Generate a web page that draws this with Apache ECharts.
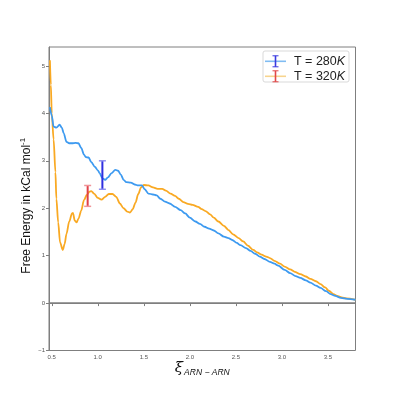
<!DOCTYPE html>
<html>
<head>
<meta charset="utf-8">
<script src="https://cdn.jsdelivr.net/npm/echarts@6/dist/echarts.min.js"></script>
<style>html,body{margin:0;padding:0;background:#fff;}#c{width:395px;height:395px;}</style>
</head>
<body>
<div id="c"></div>
<script>
// ---- data ----
const blueX = [0.48,0.50,0.52,0.55,0.585,0.61,0.63,0.66,0.69,0.72,0.76,0.79,0.82,0.85,0.87,0.90,0.93,0.97,1.00,1.02,1.05,1.08,1.11,1.15,1.19,1.22,1.25,1.28,1.31,1.36,1.40,1.44,1.48,1.51,1.55,1.60,1.64,1.68,1.73,1.78,1.84,1.90,1.95,2.00,2.06,2.11,2.16,2.21,2.26,2.31,2.37,2.42,2.46,2.51,2.55,2.61,2.66,2.71,2.76,2.81,2.87,2.92,2.96,3.03,3.09,3.15,3.20,3.26,3.31,3.37,3.42,3.48,3.53,3.58,3.64,3.71,3.80];
const blueY = [4.13,3.95,3.72,3.70,3.76,3.70,3.58,3.40,3.37,3.37,3.38,3.37,3.27,3.13,3.08,3.07,2.97,2.87,2.80,2.74,2.63,2.60,2.65,2.74,2.81,2.79,2.71,2.60,2.55,2.54,2.50,2.48,2.48,2.40,2.31,2.29,2.27,2.20,2.14,2.10,2.03,1.96,1.89,1.80,1.72,1.67,1.61,1.57,1.53,1.47,1.40,1.37,1.33,1.27,1.22,1.16,1.10,1.04,0.98,0.93,0.87,0.83,0.79,0.70,0.63,0.57,0.53,0.48,0.43,0.37,0.32,0.25,0.19,0.15,0.11,0.09,0.07];
const orangeX = [0.48,0.49,0.50,0.52,0.54,0.55,0.57,0.59,0.62,0.64,0.66,0.69,0.72,0.73,0.75,0.77,0.79,0.82,0.85,0.88,0.91,0.93,0.96,1.00,1.04,1.08,1.12,1.16,1.20,1.24,1.28,1.32,1.35,1.38,1.41,1.44,1.47,1.50,1.55,1.60,1.65,1.70,1.74,1.79,1.84,1.88,1.93,1.98,2.03,2.09,2.13,2.17,2.22,2.26,2.31,2.37,2.42,2.47,2.53,2.58,2.63,2.69,2.73,2.78,2.83,2.87,2.92,2.98,3.03,3.09,3.14,3.20,3.26,3.31,3.37,3.42,3.47,3.51,3.56,3.60,3.65,3.70,3.80];
const orangeY = [5.12,4.60,4.00,3.45,2.76,2.20,1.70,1.28,1.12,1.25,1.46,1.72,1.89,1.90,1.74,1.70,1.78,1.95,2.17,2.28,2.35,2.36,2.31,2.22,2.18,2.24,2.30,2.30,2.24,2.10,2.00,1.93,1.91,1.98,2.12,2.30,2.44,2.49,2.48,2.44,2.41,2.41,2.37,2.31,2.26,2.20,2.13,2.09,2.07,2.03,1.98,1.94,1.87,1.80,1.72,1.63,1.54,1.45,1.37,1.30,1.21,1.12,1.07,1.02,0.98,0.95,0.89,0.83,0.77,0.71,0.66,0.61,0.56,0.51,0.46,0.40,0.33,0.26,0.19,0.15,0.12,0.10,0.07];
// error bars: [x, low, high]
const errBlue = [[1.05, 2.40, 3.00]];
const errRed = [[0.89, 2.04, 2.48]];
const xTicks = [0.5,1.0,1.5,2.0,2.5,3.0,3.5];
const yTicks = [-1,0,1,2,3,4,5];
const legendNames = ['T = 280', 'T = 320'];

const zip = (a,b) => a.map((v,i)=>[v,b[i]]);

function errItem(color, capColor) {
  return function(params, api) {
    const x = api.value(0);
    const lo = api.coord([x, api.value(1)]);
    const hi = api.coord([x, api.value(2)]);
    const hw = 3.5;
    return {type:'group', children:[
      {type:'line', shape:{x1:lo[0],y1:lo[1],x2:hi[0],y2:hi[1]}, style:{stroke:color,lineWidth:2}},
      {type:'line', shape:{x1:lo[0]-hw,y1:lo[1],x2:lo[0]+hw,y2:lo[1]}, style:{stroke:capColor,lineWidth:1.5}},
      {type:'line', shape:{x1:hi[0]-hw,y1:hi[1],x2:hi[0]+hw,y2:hi[1]}, style:{stroke:capColor,lineWidth:1.5}}
    ]};
  };
}

const chart = echarts.init(document.getElementById('c'));
const font = 'Liberation Sans, Arial, sans-serif';
const gridL = 49, gridR = 39.5, gridT = 47, gridB = 44.5;

function legendGraphic() {
  const bx = 263, by = 51, bw = 86, bh = 31;
  const rows = [61.3, 76.3];
  const lineCol = ['#80bcf2', '#f7d48e'];
  const barCol = ['#3a3ae0', '#e24848'];
  const els = [{type:'rect', shape:{x:bx,y:by,width:bw,height:bh,r:2}, style:{fill:'rgba(255,255,255,0.85)',stroke:'#d9d9d9',lineWidth:1}}];
  rows.forEach((ry,i)=>{
    els.push({type:'line', shape:{x1:265,y1:ry,x2:286,y2:ry}, style:{stroke:lineCol[i],lineWidth:1.6}});
    els.push({type:'line', shape:{x1:275.5,y1:ry-5.5,x2:275.5,y2:ry+5.5}, style:{stroke:barCol[i],lineWidth:1.6}});
    els.push({type:'line', shape:{x1:272.5,y1:ry-5.5,x2:278.5,y2:ry-5.5}, style:{stroke:barCol[i],lineWidth:1}});
    els.push({type:'line', shape:{x1:272.5,y1:ry+5.5,x2:278.5,y2:ry+5.5}, style:{stroke:barCol[i],lineWidth:1}});
    els.push({type:'text', x:294, y:ry, style:{text:'{a|'+legendNames[i]+'}{k|K}', verticalAlign:'middle', fill:'#222',
      rich:{a:{fontSize:12.5,fontFamily:font,fill:'#222'},k:{fontSize:12.5,fontFamily:font,fontStyle:'italic',fill:'#222'}}}});
  });
  return els;
}

chart.setOption({
  animation:false,
  backgroundColor:'#fff',
  grid:{left:gridL,right:gridR,top:gridT,bottom:gridB,show:true,borderColor:'#7f7f7f',borderWidth:1,backgroundColor:'transparent'},
  xAxis:{type:'value',min:0.47,max:3.8,
    name:'{xi|ξ}{sub|ARN − ARN}',nameLocation:'middle',nameGap:9,nameMoveOverlap:false,
    nameTextStyle:{rich:{xi:{fontSize:15,fontStyle:'italic',fontFamily:'DejaVu Serif',color:'#111'},sub:{fontSize:8.5,fontStyle:'italic',fontFamily:font,color:'#111',padding:[9,0,0,1]}}},
    axisLine:{show:true,lineStyle:{color:'#7f7f7f',width:1}},
    axisTick:{show:true,length:3,lineStyle:{color:'#7f7f7f'},customValues:xTicks},
    axisLabel:{fontSize:6,color:'#555',fontFamily:font,margin:4,customValues:xTicks,formatter:v=>v.toFixed(1)},
    splitLine:{show:false}},
  yAxis:{type:'value',min:-1,max:5.4,
    name:'Free Energy in kCal mol{sup|-1}',nameLocation:'middle',nameGap:15,nameRotate:90,nameMoveOverlap:false,
    nameTextStyle:{fontSize:12,fontFamily:font,color:'#111',padding:[0,14,0,0],rich:{sup:{fontSize:8,fontFamily:font,color:'#111',verticalAlign:'top',padding:[0,0,7,0]}}},
    axisLine:{show:true,lineStyle:{color:'#7f7f7f',width:1}},
    axisTick:{show:true,length:3,lineStyle:{color:'#7f7f7f'},customValues:yTicks},
    axisLabel:{fontSize:6,color:'#555',fontFamily:font,margin:4,customValues:yTicks,formatter:v=>v<0?'−'+Math.abs(v):String(v)},
    splitLine:{show:false}},
  graphic:legendGraphic(),
  series:[
    {type:'line',name:'T = 280K',data:zip(blueX,blueY),showSymbol:false,smooth:0.3,smoothMonotone:'x',
      lineStyle:{color:'#3d9af0',width:1.8},z:3,
      markLine:{silent:true,symbol:['none','none'],label:{show:false},lineStyle:{color:'#7f7f7f',width:1.5,type:'solid'},data:[{yAxis:0}]}},
    {type:'line',name:'T = 320K',data:zip(orangeX,orangeY),showSymbol:false,smooth:0.3,smoothMonotone:'x',
      lineStyle:{color:'#f9a923',width:1.8},z:2},
    {type:'custom',data:errBlue,renderItem:errItem('#2f2fe0','#8f8ff0'),z:5},
    {type:'custom',data:errRed,renderItem:errItem('#e04048','#f09498'),z:5}
  ]
});
</script>
</body>
</html>
